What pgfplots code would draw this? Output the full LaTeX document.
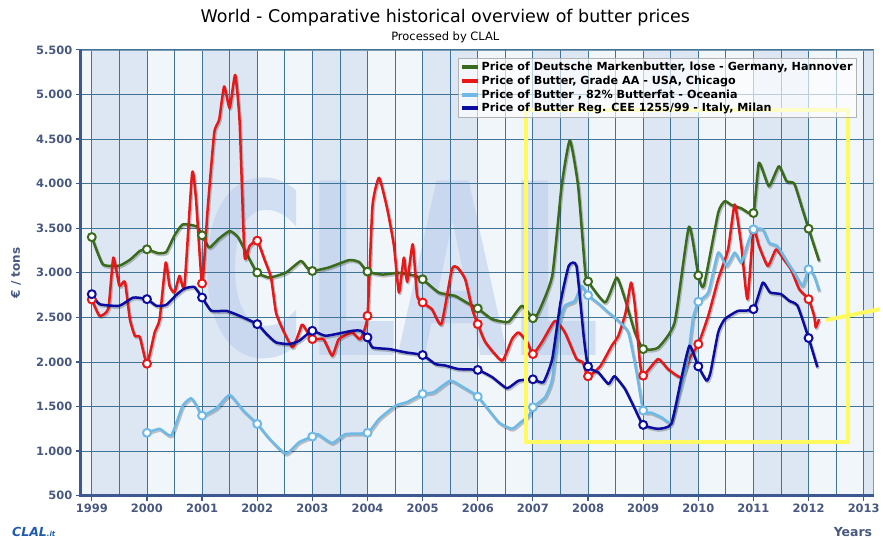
\documentclass[border=0pt]{standalone}
\usepackage{fontspec}
\setmainfont{DejaVu Sans}
\usepackage{pgfplots}
\pgfplotsset{compat=1.18}

\definecolor{gGreen}{RGB}{58,107,28}
\definecolor{gRed}{RGB}{232,24,24}
\definecolor{gLight}{RGB}{110,185,230}
\definecolor{gDark}{RGB}{12,12,160}
\definecolor{gridc}{RGB}{65,115,150}
\definecolor{axisc}{RGB}{60,90,145}
\definecolor{tickc}{RGB}{72,88,128}
\definecolor{bgc}{RGB}{241,246,251}
\definecolor{bandc}{RGB}{221,231,243}
\definecolor{wmc}{RGB}{185,205,235}
\definecolor{yel}{RGB}{255,250,95}
\tikzset{hg/.style={draw=gridc, line width=0.85pt}}

\begin{document}
\begin{tikzpicture}
\begin{axis}[
    name=ax,
    set layers,
    scale only axis,
    width=795pt, height=447pt,
    xmin=1998.8, xmax=2013.18,
    ymin=500, ymax=5500,
    xtick={1999,2000,...,2013},
    ytick={500,1000,...,5500},
    grid=major,
    major grid style={draw=gridc, line width=0.85pt},
    tick pos=left, tick align=outside,
    major tick length=5pt,
    tick style={draw=axisc, line width=1.2pt},
    axis line style={draw=gridc!70, line width=0.6pt},
    axis background/.style={fill=bgc},
    scaled x ticks=false, scaled y ticks=false,
    /pgf/number format/assume math mode=true,
    ticklabel style={font=\fontsize{11.5}{13}\selectfont\bfseries, text=tickc},
    yticklabel style={/pgf/number format/.cd, fixed, 1000 sep={.}},
    xticklabel style={/pgf/number format/.cd, 1000 sep={}},
    legend style={at={(rel axis cs:0.978,0.982)}, anchor=north east,
        fill=white, fill opacity=0.65, text opacity=1, draw=gray!60,
        font=\fontsize{11.2}{13}\selectfont\bfseries, inner sep=1.5pt,
        row sep=0pt},
    legend cell align=left,
    legend image code/.code={\draw[#1, line width=4pt] (0pt,0pt) -- (16pt,0pt);},
    every axis plot/.append style={line width=2.5pt, line join=round, smooth, tension=0.3},
    shd/.style={preaction={draw=black, draw opacity=0.22, line width=3pt,
        transform canvas={shift={(1pt,-1.5pt)}}}},
    mk/.style={only marks, mark=*, mark size=4pt,
        mark options={fill=white, draw=#1, line width=2pt}},
]
\begin{pgfonlayer}{axis background}
  \fill[bandc] (axis cs:1999,500) rectangle (axis cs:2000,5500);
  \fill[bandc] (axis cs:2001,500) rectangle (axis cs:2002,5500);
  \fill[bandc] (axis cs:2003,500) rectangle (axis cs:2004,5500);
  \fill[bandc] (axis cs:2005,500) rectangle (axis cs:2006,5500);
  \fill[bandc] (axis cs:2007,500) rectangle (axis cs:2008,5500);
  \fill[bandc] (axis cs:2009,500) rectangle (axis cs:2010,5500);
  \fill[bandc] (axis cs:2011,500) rectangle (axis cs:2012,5500);
  \fill[bandc] (axis cs:2013,500) rectangle (axis cs:2013.18,5500);
  \node[text=wmc, opacity=0.55, xscale=0.6, font=\fontsize{240}{240}\selectfont\bfseries]
    at (axis cs:2004.6,3050) {CLAL};
\end{pgfonlayer}

% half-year grid lines
\draw[hg] (axis cs:1999.5,500) -- (axis cs:1999.5,5500);
\draw[hg] (axis cs:2000.5,500) -- (axis cs:2000.5,5500);
\draw[hg] (axis cs:2001.5,500) -- (axis cs:2001.5,5500);
\draw[hg] (axis cs:2002.5,500) -- (axis cs:2002.5,5500);
\draw[hg] (axis cs:2003.5,500) -- (axis cs:2003.5,5500);
\draw[hg] (axis cs:2004.5,500) -- (axis cs:2004.5,5500);
\draw[hg] (axis cs:2005.5,500) -- (axis cs:2005.5,5500);
\draw[hg] (axis cs:2006.5,500) -- (axis cs:2006.5,5500);
\draw[hg] (axis cs:2007.5,500) -- (axis cs:2007.5,5500);
\draw[hg] (axis cs:2008.5,500) -- (axis cs:2008.5,5500);
\draw[hg] (axis cs:2009.5,500) -- (axis cs:2009.5,5500);
\draw[hg] (axis cs:2010.5,500) -- (axis cs:2010.5,5500);
\draw[hg] (axis cs:2011.5,500) -- (axis cs:2011.5,5500);
\draw[hg] (axis cs:2012.5,500) -- (axis cs:2012.5,5500);

% Germany, Hannover
\addplot[gGreen, shd, forget plot] coordinates {
(1999.0,3400) (1999.2,3095) (1999.5,3080) (1999.7,3150) (1999.87,3244) (2000.0,3263)
(2000.2,3220) (2000.35,3233) (2000.5,3420) (2000.65,3543) (2000.9,3520) (2001.0,3420)
(2001.13,3282) (2001.3,3380) (2001.5,3468) (2001.65,3400) (2001.86,3151) (2002.0,3002)
(2002.22,2946) (2002.52,3002) (2002.79,3132) (2002.9,3060) (2003.0,3020) (2003.3,3060)
(2003.67,3143) (2003.85,3120) (2004.0,3013) (2004.27,2980) (2004.57,3000) (2004.84,2970)
(2005.0,2927) (2005.29,2779) (2005.59,2740) (2005.8,2665) (2006.0,2600) (2006.26,2480)
(2006.56,2450) (2006.8,2629) (2007.0,2490) (2007.1,2555) (2007.35,2965) (2007.52,3971)
(2007.67,4486) (2007.82,3971) (2007.95,3000) (2008.0,2902) (2008.31,2667) (2008.52,2946)
(2008.67,2705) (2008.85,2331) (2009.0,2144) (2009.27,2160) (2009.57,2443) (2009.83,3517)
(2010.0,2970) (2010.1,2853) (2010.36,3673) (2010.48,3803) (2010.6,3760) (2010.78,3723)
(2011.0,3670) (2011.1,4233) (2011.28,3971) (2011.46,4195) (2011.6,4027) (2011.74,4000)
(2011.89,3710) (2012.0,3494) (2012.19,3132)
};
% USA, Chicago
\addplot[gRed, shd, forget plot] coordinates {
(1999.0,2700) (1999.14,2517) (1999.3,2600) (1999.39,3170) (1999.5,2853) (1999.6,2900)
(1999.69,2480) (1999.78,2293) (1999.87,2280) (2000.0,1980) (2000.14,2331) (2000.23,2480)
(2000.34,3114) (2000.41,2853) (2000.5,2779) (2000.59,2965) (2000.68,2853) (2000.82,4121)
(2000.89,3822) (2001.0,2880) (2001.1,3710) (2001.22,4568) (2001.31,4717) (2001.4,5090)
(2001.5,4848) (2001.6,5220) (2001.68,4700) (2001.77,3189) (2001.86,3300) (2002.0,3360)
(2002.13,3151) (2002.25,2946) (2002.34,2555) (2002.46,2368) (2002.64,2163) (2002.76,2331)
(2002.82,2420) (2003.0,2256) (2003.2,2256) (2003.36,2070) (2003.48,2256) (2003.72,2331)
(2003.87,2256) (2004.0,2517) (2004.09,3747) (2004.21,4065) (2004.36,3710) (2004.48,3300)
(2004.57,2779) (2004.66,3170) (2004.72,2900) (2004.82,3320) (2004.9,2741) (2005.0,2667)
(2005.17,2590) (2005.34,2424) (2005.53,3039) (2005.63,3060) (2005.77,2930) (2005.9,2590)
(2006.0,2424) (2006.14,2219) (2006.44,2014) (2006.62,2256) (2006.74,2331) (2006.9,2219)
(2007.0,2088) (2007.16,2219) (2007.4,2461) (2007.58,2331) (2007.79,2033) (2007.9,2000)
(2008.0,1839) (2008.22,1950) (2008.43,2182) (2008.55,2293) (2008.68,2550) (2008.78,2890)
(2008.85,2630) (2008.94,2000) (2009.0,1846) (2009.27,2033) (2009.45,1920) (2009.69,1828)
(2009.85,2050) (2010.0,2200) (2010.18,2517) (2010.36,2927) (2010.54,3263) (2010.66,3766)
(2010.78,3300) (2010.89,2704) (2011.0,3480) (2011.1,3300) (2011.26,3077) (2011.41,3263)
(2011.55,3151) (2011.68,3039) (2011.83,2816) (2012.0,2704) (2012.1,2517) (2012.13,2387)
(2012.19,2480)
};
% Oceania
\addplot[gLight, shd, forget plot] coordinates {
(2000.0,1205) (2000.23,1250) (2000.44,1175) (2000.65,1510) (2000.8,1593) (2000.9,1510)
(2001.0,1398) (2001.26,1480) (2001.5,1630) (2001.74,1460) (2002.0,1305) (2002.22,1140)
(2002.52,970) (2002.76,1100) (2003.0,1163) (2003.1,1190) (2003.36,1090) (2003.6,1190)
(2004.0,1205) (2004.21,1361) (2004.51,1510) (2004.72,1550) (2005.0,1641) (2005.2,1660)
(2005.5,1790) (2005.7,1730) (2006.0,1611) (2006.38,1324) (2006.62,1250) (2006.78,1324)
(2006.93,1400) (2007.0,1492) (2007.22,1604) (2007.35,1809) (2007.47,2405) (2007.58,2629)
(2007.76,2685) (2007.88,2853) (2008.0,2748) (2008.2,2650) (2008.37,2555) (2008.52,2480)
(2008.73,2331) (2008.88,1884) (2009.0,1455) (2009.15,1430) (2009.33,1380) (2009.51,1324)
(2009.69,1730) (2009.81,2033) (2009.9,2480) (2010.0,2675) (2010.18,2779) (2010.36,3226)
(2010.51,3077) (2010.66,3226) (2010.78,3114) (2010.9,3338) (2011.0,3487) (2011.17,3487)
(2011.28,3338) (2011.43,3300) (2011.62,3114) (2011.74,3000) (2011.89,2853) (2012.0,3039)
(2012.1,2965) (2012.19,2797)
};
% Italy, Milan
\addplot[gDark, shd, forget plot] coordinates {
(1999.0,2760) (1999.14,2648) (1999.5,2630) (1999.75,2722) (2000.0,2704) (2000.17,2630)
(2000.35,2640) (2000.53,2750) (2000.68,2823) (2000.86,2840) (2001.0,2722) (2001.17,2573)
(2001.44,2573) (2001.68,2517) (2002.0,2424) (2002.17,2312) (2002.34,2219) (2002.58,2200)
(2002.76,2237) (2003.0,2349) (2003.24,2293) (2003.72,2349) (2003.88,2349) (2004.0,2275)
(2004.09,2163) (2004.4,2144) (2004.69,2107) (2005.0,2077) (2005.23,1977) (2005.41,1960)
(2005.65,1920) (2006.0,1910) (2006.26,1830) (2006.53,1705) (2006.74,1790) (2007.0,1805)
(2007.19,1772) (2007.35,2033) (2007.5,2667) (2007.65,3077) (2007.79,3077) (2007.92,2293)
(2008.0,1950) (2008.19,1880) (2008.37,1753) (2008.48,1840) (2008.67,1697) (2008.85,1473)
(2009.0,1294) (2009.27,1250) (2009.51,1305) (2009.69,1809) (2009.84,2182) (2010.0,1950)
(2010.15,1790) (2010.22,1880) (2010.36,2331) (2010.48,2480) (2010.72,2573) (2011.0,2592)
(2011.17,2890) (2011.3,2780) (2011.5,2760) (2011.65,2685) (2011.8,2630) (2012.0,2268)
(2012.16,1940)
};

% yearly markers
\addplot[mk=gGreen, forget plot] coordinates {
(1999,3400) (2000,3263) (2001,3420) (2002,3002) (2003,3020) (2004,3013) (2005,2927)
(2006,2600) (2007,2490) (2008,2902) (2009,2144) (2010,2970) (2011,3670) (2012,3494)};
\addplot[mk=gRed, forget plot] coordinates {
(1999,2700) (2000,1980) (2001,2880) (2002,3360) (2003,2256) (2004,2517) (2005,2667)
(2006,2424) (2007,2088) (2008,1839) (2009,1846) (2010,2200) (2011,3480) (2012,2704)};
\addplot[mk=gLight, forget plot] coordinates {
(2000,1205) (2001,1398) (2002,1305) (2003,1163) (2004,1205) (2005,1641) (2006,1611)
(2007,1492) (2008,2748) (2009,1455) (2010,2675) (2011,3487) (2012,3039)};
\addplot[mk=gDark, forget plot] coordinates {
(1999,2760) (2000,2704) (2001,2722) (2002,2424) (2003,2349) (2004,2275) (2005,2077)
(2006,1910) (2007,1805) (2008,1950) (2009,1294) (2010,1950) (2011,2592) (2012,2268)};

\addlegendimage{gGreen}
\addlegendentry{Price of Deutsche Markenbutter, lose - Germany, Hannover}
\addlegendimage{gRed}
\addlegendentry{Price of Butter, Grade AA - USA, Chicago}
\addlegendimage{gLight}
\addlegendentry{Price of Butter , 82\% Butterfat - Oceania}
\addlegendimage{gDark}
\addlegendentry{Price of Butter Reg. CEE 1255/99 - Italy, Milan}
\end{axis}

% frame, titles and annotation
\draw[axisc, line width=3pt] (ax.north west) -- (ax.south west) -- (ax.south east);
\node[font=\fontsize{17.5}{19}\selectfont] at ([xshift=-32pt, yshift=32pt]ax.north) {World - Comparative historical overview of butter prices};
\node[font=\fontsize{11.5}{13}\selectfont] at ([xshift=-32pt, yshift=13pt]ax.north) {Processed by CLAL};
\node[rotate=90, text=tickc, font=\fontsize{12}{14}\selectfont\bfseries] at ([xshift=-65pt]ax.west) {€ / tons};
\node[anchor=east, text=tickc, font=\fontsize{12.5}{14}\selectfont\bfseries] at ([xshift=2pt, yshift=-36pt]ax.south east) {Years};
\node[anchor=west, text={rgb,255:red,30;green,90;blue,175}, font=\fontsize{12.5}{14}\selectfont\bfseries\itshape, inner sep=0pt] at ([xshift=-69pt, yshift=-36pt]ax.south west) {CLAL{\fontsize{7}{8}\selectfont.it}};
\draw[yel, line width=4pt] ([shift={(446pt,54pt)}]ax.south west) rectangle ([shift={(769pt,387pt)}]ax.south west);
\draw[yel, line width=4pt] ([shift={(747pt,176pt)}]ax.south west) -- ([shift={(801pt,187pt)}]ax.south west);
\path ([shift={(-81pt,-43pt)}]ax.south west) rectangle ([shift={(7pt,50pt)}]ax.north east);
\end{tikzpicture}
\end{document}
